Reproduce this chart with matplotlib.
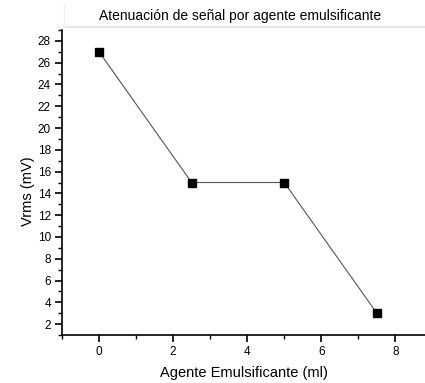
import numpy as np
import matplotlib
matplotlib.use("Agg")
import matplotlib.pyplot as plt
from matplotlib.lines import Line2D
from matplotlib.ticker import MultipleLocator

# Data
agente_ml = [0, 2.5, 5, 7.5]
vrms_mv = [27, 15, 15, 3]

plt.rcParams["font.family"] = ["Liberation Sans", "DejaVu Sans"]

W, H = 425, 383
fig = plt.figure(figsize=(W / 100, H / 100), dpi=100)
ax = fig.add_axes([62 / W, 1 - 335 / H, (W - 62) / W, (335 - 30) / H])

ax.plot(agente_ml, vrms_mv, color="#555555", linewidth=0.8,
        marker="s", markersize=5.2, markerfacecolor="black",
        markeredgecolor="black")

ax.set_xlim(-1, 8.8)
ax.set_ylim(1, 29)
ax.xaxis.set_major_locator(MultipleLocator(2))
ax.xaxis.set_minor_locator(MultipleLocator(1))
ax.yaxis.set_major_locator(MultipleLocator(2))
ax.yaxis.set_minor_locator(MultipleLocator(1))

for side in ("top", "right"):
    ax.spines[side].set_visible(False)
for side in ("left", "bottom"):
    ax.spines[side].set_linewidth(1.2)

ax.tick_params(which="major", direction="out", length=5, width=1.2,
               labelsize=8.5, pad=3)
ax.tick_params(which="minor", direction="out", length=3, width=1.0)

ax.set_xlabel("Agente Emulsificante (ml)", fontsize=10.5, labelpad=6)
ax.set_ylabel("Vrms (mV)", fontsize=10.5)
ax.yaxis.set_label_coords(-0.074, 0.47)

# faint title band: left and bottom edges only
x0, x1 = 63.5 / W, 1.0
yb, yt = 1 - 27 / H, 1 - 4 / H
fig.add_artist(Line2D([x0, x1], [yb, yb], transform=fig.transFigure,
                      color="#e0e0e0", linewidth=1.2))
fig.add_artist(Line2D([x0, x0], [yb, yt], transform=fig.transFigure,
                      color="#f0f0f0", linewidth=1.0))
fig.text(240 / W, 1 - 16 / H, "Atenuación de señal por agente emulsificante",
         ha="center", va="center", fontsize=10)

fig.savefig("out.png", dpi=100)
